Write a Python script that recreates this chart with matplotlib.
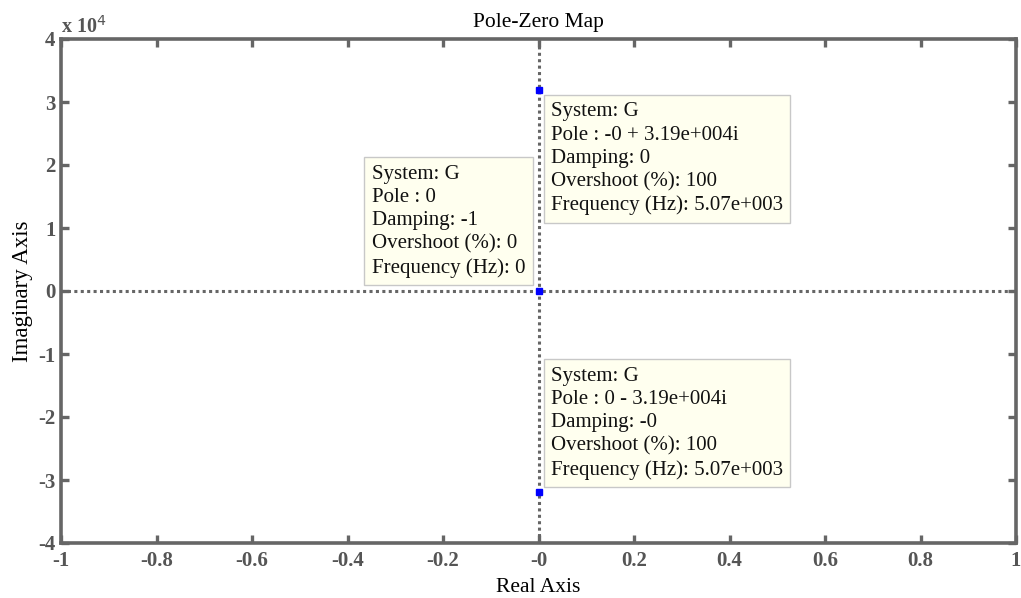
import matplotlib.pyplot as plt
from matplotlib.ticker import FuncFormatter
import numpy as np

# pole data (real, imaginary)
pole_re = [0.0, 0.0, 0.0]
pole_im = [31900.0, 0.0, -31900.0]
pole_txt = ["-0 + 3.19e+004i", "0", "0 - 3.19e+004i"]
damping = ["0", "-1", "-0"]
overshoot = ["100", "0", "100"]
freq_hz = ["5.07e+003", "0", "5.07e+003"]

x_ticks = np.round(np.arange(-1, 1.01, 0.2), 1)
y_ticks = np.arange(-4, 5) * 1e4

gray = '#666666'
plt.rcParams['font.family'] = ['Liberation Serif', 'DejaVu Serif']

fig = plt.figure(figsize=(10.21, 5.98), dpi=100)
W, H = 1021, 598
ax = fig.add_axes([61 / W, (H - 543) / H, 955 / W, 504 / H])

ax.set_xlim(-1, 1)
ax.set_ylim(-4e4, 4e4)

# axes through origin
ax.axhline(0, color=gray, lw=2.2, ls=(0, (1, 1.1)), zorder=1)
ax.axvline(0, color=gray, lw=2.2, ls=(0, (1, 1.1)), zorder=1)

ax.plot(pole_re, pole_im, ls='none', marker='s', ms=4.5, color='#0000ff', zorder=3)

# data tips
offsets = [(5, -5), (-6, 6), (5, 5)]
aligns = [('left', 'top'), ('right', 'bottom'), ('left', 'bottom')]
pad = 0.35
for i in range(3):
    txt = "System: G\nPole : {}\nDamping: {}\nOvershoot (%): {}\nFrequency (Hz): {}".format(
        pole_txt[i], damping[i], overshoot[i], freq_hz[i])
    fs = 15
    p = pad * fs * 100 / 72
    dx, dy = offsets[i]
    dx = dx + p if dx > 0 else dx - p
    dy = dy + p if dy > 0 else dy - p
    ha, va = aligns[i]
    ax.annotate(txt, (pole_re[i], pole_im[i]), xytext=(dx * 72 / 100, dy * 72 / 100),
                textcoords='offset points', ha=ha, va=va, multialignment='left',
                fontsize=fs, linespacing=1.3, color='#111111',
                bbox=dict(boxstyle='square,pad=%g' % pad, fc='#ffffef', ec='#c8c8c8', lw=1),
                zorder=4)

for s in ax.spines.values():
    s.set_color(gray)
    s.set_linewidth(2.6)

ax.set_xticks(x_ticks)
ax.set_yticks(y_ticks)
ax.xaxis.set_major_formatter(FuncFormatter(lambda v, p: '%g' % round(v, 1)))
ax.yaxis.set_major_formatter(FuncFormatter(lambda v, p: '%d' % round(v / 1e4)))
ax.tick_params(direction='in', length=6, width=2.4, color=gray, top=True, right=True,
               labelsize=15, labelcolor='#555555', pad=4)
ax.tick_params(axis='x', pad=6)
for lab in ax.get_xticklabels() + ax.get_yticklabels():
    lab.set_fontweight('bold')

ax.text(0, 1.003, r'x 10$^{4}$', transform=ax.transAxes, fontsize=14.5, fontweight='bold',
        color='#555555', ha='left', va='bottom')

ax.set_title('Pole-Zero Map', fontsize=15.5, pad=9)
ax.set_xlabel('Real Axis', fontsize=15.5, labelpad=5)
ax.set_ylabel('Imaginary Axis', fontsize=16.5, labelpad=4)

fig.savefig('out.png', dpi=100)
